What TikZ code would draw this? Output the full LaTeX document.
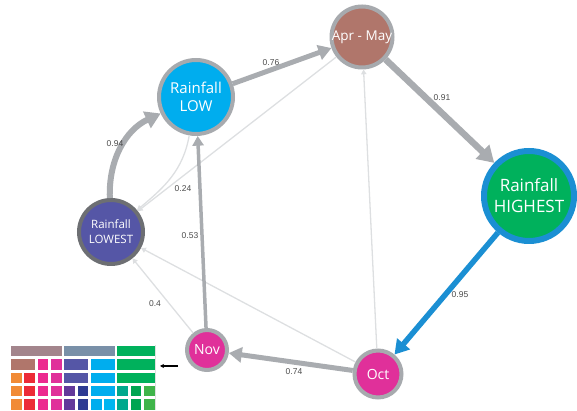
\documentclass[tikz,border=0pt]{standalone}
\usepackage{fontspec}
\setmainfont{Open Sans}
\newfontfamily\weightfont{Liberation Sans}
\usetikzlibrary{arrows.meta}

\definecolor{ringgray}{HTML}{A7AAAE}
\definecolor{darkring}{HTML}{6D6F73}
\definecolor{highring}{HTML}{1B8FD3}
\definecolor{linkgray}{HTML}{A9ACB0}
\definecolor{faintgray}{HTML}{DDDFE1}
\definecolor{aprfill}{HTML}{B0766B}
\definecolor{lowfill}{HTML}{00ADEE}
\definecolor{highfill}{HTML}{00B15C}
\definecolor{lowestfill}{HTML}{5556A6}
\definecolor{monthfill}{HTML}{E0309A}
\definecolor{legmauve}{HTML}{A3858C}
\definecolor{legslate}{HTML}{7990A8}
\definecolor{legorange}{HTML}{F18A35}
\definecolor{legred}{HTML}{EC2B37}
\definecolor{legpink}{HTML}{EC2A8F}
\definecolor{legpurple}{HTML}{63399A}
\definecolor{legnavy}{HTML}{2E3B93}
\definecolor{legsky}{HTML}{00B5F0}
\definecolor{legteal}{HTML}{00A88D}
\definecolor{leggreen}{HTML}{00A551}
\definecolor{leglime}{HTML}{3FB44A}

% legend cell: column, row, span, colour
\newcommand{\legcell}[4]{%
\fill[#4]
({11+13.3*#1},{65-13.3*#2})
rectangle
++({13.3*#3-2.6},-10.5);}

\tikzset{
rain/.style={circle, draw=ringgray, line width=4pt, text=white,
  inner sep=0pt, align=center},
link/.style={draw=linkgray,
  -{Triangle[length=2pt 2.2, width=2pt 2.6]}},
faint/.style={link, draw=faintgray, line width=1.3pt},
weight/.style={text=black!70, font=\weightfont\fontsize{8.5}{10}\selectfont}
}

\begin{document}
\begin{tikzpicture}[x=1pt,y=1pt]

\useasboundingbox (0,0) rectangle (577,411);

% Nodes
\node[rain, fill=aprfill, minimum size=61pt,
font=\fontsize{13.5}{16}\selectfont]
(apr) at (362,374)
{\makebox[0pt]{Apr - May}};

\node[rain, fill=lowfill, minimum size=74pt,
font=\fontsize{15}{18}\selectfont]
(low) at (196,314)
{Rainfall\\LOW};

\node[rain, draw=highring, line width=6pt, fill=highfill,
minimum size=90pt, font=\fontsize{17}{21}\selectfont]
(high) at (529,215)
{Rainfall\\HIGHEST};

\node[rain, draw=darkring, fill=lowestfill, minimum size=64pt,
font=\fontsize{11.5}{15}\selectfont]
(lowest) at (111,179)
{Rainfall\\LOWEST};

\node[rain, fill=monthfill, minimum size=40pt,
font=\fontsize{14}{16}\selectfont]
(nov) at (207,61)
{Nov};

\node[rain, fill=monthfill, minimum size=47pt,
font=\fontsize{14}{16}\selectfont]
(oct) at (378,37)
{Oct};

% Faint links
\draw[faint]
(oct)
--
(apr);

\draw[faint]
(apr)
--
(lowest);

\draw[faint]
(oct)
--
(lowest);

\draw[faint]
(nov)
--
(lowest);

\draw[faint]
(low)
to[out=-100,in=40]
(lowest);

% Strong links
\draw[link, line width=6pt]
(lowest)
to[out=92,in=205]
(low);

\draw[link, line width=5pt]
(low)
--
(apr);

\draw[link, line width=6.5pt]
(apr)
--
(high);

\draw[link, draw=highring, line width=5.5pt]
(high)
--
(oct);

\draw[link, line width=5pt]
(oct)
--
(nov);

\draw[link, line width=3.5pt]
(nov)
--
(low);

% Weights
\node[weight] (w94) at (115,267) {0.94};
\node[weight] (w76) at (271,348) {0.76};
\node[weight] (w91) at (442,313) {0.91};
\node[weight] (w95) at (460,116) {0.95};
\node[weight] (w74) at (294,39) {0.74};
\node[weight] (w53) at (190,175) {0.53};
\node[weight] (w40) at (155,107) {0.4};
\node[weight] (w24) at (183,222) {0.24};

% Legend
\legcell{0}{0}{4}{legmauve}
\legcell{4}{0}{4}{legslate}
\legcell{8}{0}{3}{highfill}
\legcell{0}{1}{2}{aprfill}
\legcell{4}{1}{2}{lowestfill}
\legcell{6}{1}{2}{lowfill}
\legcell{8}{1}{3}{highfill}
\legcell{4}{2}{2}{lowestfill}
\legcell{6}{2}{2}{lowfill}
\legcell{8}{2}{3}{highfill}
\legcell{6}{3}{2}{lowfill}
\foreach \r in {1,2,3,4}{
  \legcell{2}{\r}{1}{legpink}
  \legcell{3}{\r}{1}{monthfill}
}
\foreach \r in {2,3,4}{
  \legcell{0}{\r}{1}{legorange}
  \legcell{1}{\r}{1}{legred}
}
\foreach \r in {3,4}{
  \legcell{4}{\r}{1}{legpurple}
  \legcell{5}{\r}{1}{legnavy}
  \legcell{8}{\r}{1}{legteal}
  \legcell{9}{\r}{1}{leggreen}
  \legcell{10}{\r}{1}{leglime}
}
\legcell{6}{4}{1}{lowfill}
\legcell{7}{4}{1}{legsky}

\draw[black!12, line width=0.8pt]
(155.5,1)
--
(155.5,66);

% Pointer
\coordinate (legend) at (160,45);
\coordinate (pointer) at (178,45);

\draw[-{Stealth[length=4pt,width=4pt]}, line width=1.2pt]
(pointer)
--
(legend);

\end{tikzpicture}
\end{document}
